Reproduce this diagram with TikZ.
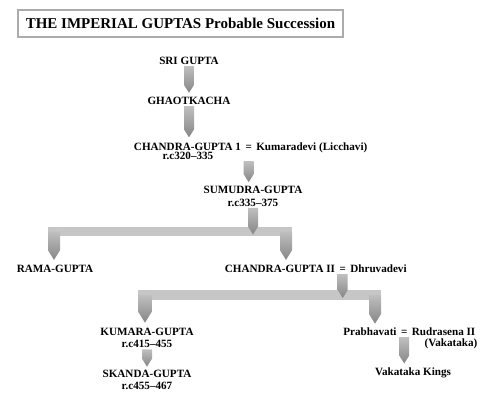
\documentclass[tikz,border=0pt]{standalone}
\usepackage{fontspec}
\setmainfont{Liberation Serif}
\usetikzlibrary{calc,positioning}
\tikzset{
  king/.style={font=\bfseries\fontsize{9.5}{10.5}\selectfont, inner sep=1pt, align=center},
  titlebox/.style={draw=gray!65, line width=0.9pt, minimum width=9.75cm,
    minimum height=0.81cm, inner sep=2pt, font=\bfseries\fontsize{12.8}{14}\selectfont},
  pencilshade/.style={top color=gray!50, bottom color=gray!95},
  barfill/.style={fill=gray!45}
}
% shaded arrow: [half width]{start}{tip}
\newcommand{\pencil}[3][5]{%
  \shade[pencilshade] ($(#2)+(-#1,0)$) -- ($(#2)+(#1,0)$) -- ($(#3)+(#1,-1.6*#1)$)
    -- (#3) -- ($(#3)+(-#1,-1.6*#1)$) -- cycle;}

\begin{document}
\begin{tikzpicture}[x=0.03cm, y=-0.03cm]
  \useasboundingbox (0,0) rectangle (500,412);

  \node[titlebox] (title) at (180.5,23.5) {THE IMPERIAL GUPTAS Probable Succession};

  % names
  \node[king] (sri) at (189,61) {SRI GUPTA};
  \node[king] (ghao) at (189,101) {GHAOTKACHA};
  \node[king] (cg1) at (187.5,146.5) {CHANDRA-GUPTA 1};
  \node[king, base right=0.05cm of cg1] (eq1) {=};
  \node[king, base right=0.05cm of eq1] (kum) {Kumaradevi (Licchavi)};
  \node[king] (cg1d) at (188,156) {r.c320--335};
  \node[king] (sam) at (253,196.5) {SUMUDRA-GUPTA\\r.c335--375};
  \node[king] (rama) at (55,269) {RAMA-GUPTA};
  \node[king] (cg2) at (280,269) {CHANDRA-GUPTA II};
  \node[king, base right=0.05cm of cg2] (eq2) {=};
  \node[king, base right=0.05cm of eq2] (dhru) {Dhruvadevi};
  \node[king] (kumg) at (147,338) {KUMARA-GUPTA\\r.c415--455};
  \node[king] (sk) at (147,380) {SKANDA-GUPTA\\r.c455--467};
  \node[king] (prab) at (370,332) {Prabhavati};
  \node[king, base right=0.05cm of prab] (eq3) {=};
  \node[king, base right=0.05cm of eq3] (rud) {Rudrasena II};
  \node[king] (vak) at (451,344) {(Vakataka)};
  \node[king] (vk) at (413,373) {Vakataka Kings};

  % single descents
  \path (sri.south |- ghao.north) ++(0,-3) coordinate (ghaotip);
  \pencil{sri.south}{ghaotip}
  \path (ghao.south |- cg1.north) ++(0,-4) coordinate (cg1tip);
  \pencil{ghao.south}{cg1tip}
  \coordinate (eq1s) at (eq1.south |- cg1d.south);
  \path (eq1s |- sam.north) ++(0,-3) coordinate (samtip);
  \pencil{eq1s}{samtip}
  \path (kumg.south |- sk.north) ++(0,-2) coordinate (sktip);
  \pencil{kumg.south}{sktip}
  \path (eq3.south |- vk.north) ++(0,-3) coordinate (vktip);
  \pencil{eq3.south}{vktip}

  % first branch
  \coordinate (b1l) at (54,231.5);
  \coordinate (b1r) at (286,231.5);
  \fill[barfill] ($(b1l)+(-6,-4.5)$) rectangle ($(b1r)+(6,4.5)$);
  \path (b1l |- rama.north) ++(0,-4) coordinate (ramatip);
  \pencil[6]{b1l}{ramatip}
  \path (b1r |- cg2.north) ++(0,-4) coordinate (cg2tip);
  \pencil[6]{b1r}{cg2tip}
  \path (sam.south |- b1l) ++(0,3) coordinate (stem1);
  \pencil{sam.south}{stem1}

  % second branch
  \coordinate (b2l) at (145,295);
  \coordinate (b2r) at (375,295);
  \fill[barfill] ($(b2l)+(-7,-5)$) rectangle ($(b2r)+(6,5)$);
  \path (b2l |- kumg.north) ++(0,-4) coordinate (kumgtip);
  \pencil[7]{b2l}{kumgtip}
  \path (b2r |- prab.north) ++(0,-3) coordinate (prabtip);
  \pencil[6]{b2r}{prabtip}
  \path (eq2.south |- b2l) ++(0,3) coordinate (stem2);
  \pencil{eq2.south}{stem2}
\end{tikzpicture}
\end{document}
